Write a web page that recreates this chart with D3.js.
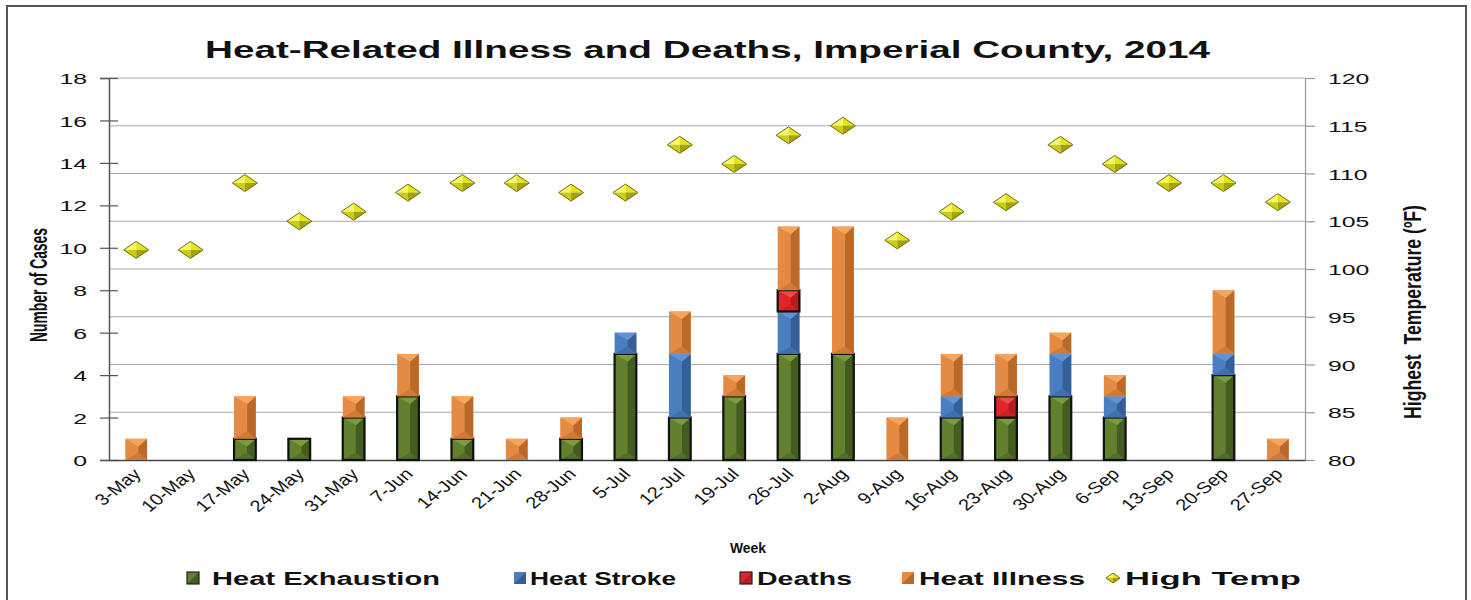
<!DOCTYPE html>
<html><head><meta charset="utf-8">
<script src="https://cdn.jsdelivr.net/npm/d3@7"></script>
<style>
body{margin:0;background:#fff;}
text{font-family:"Liberation Sans",Arial,sans-serif;}
.narrow{font-family:"Liberation Sans Narrow","Arial Narrow","Liberation Sans",sans-serif;}
</style></head>
<body><svg id="chart" width="1471" height="600"></svg>
<script>
const weeks = ["3-May","10-May","17-May","24-May","31-May","7-Jun","14-Jun","21-Jun","28-Jun","5-Jul","12-Jul","19-Jul","26-Jul","2-Aug","9-Aug","16-Aug","23-Aug","30-Aug","6-Sep","13-Sep","20-Sep","27-Sep"];
const heatExhaustion = [0,0,1,1,2,3,1,0,1,5,2,3,5,5,0,2,2,3,2,0,4,0];
const heatStroke     = [0,0,0,0,0,0,0,0,0,1,3,0,2,0,0,1,0,2,1,0,1,0];
const deaths         = [0,0,0,0,0,0,0,0,0,0,0,0,1,0,0,0,1,0,0,0,0,0];
const heatIllness    = [1,0,2,0,1,2,2,1,1,0,2,1,3,6,2,2,2,1,1,0,3,1];
const highTemp       = [102,102,109,105,106,108,109,109,108,108,113,111,114,115,103,106,107,113,111,109,109,107];
const leftTicks  = [0,2,4,6,8,10,12,14,16,18];
const rightTicks = [80,85,90,95,100,105,110,115,120];
const seriesNames = ["Heat Exhaustion","Heat Stroke","Deaths","Heat Illness"];

const svg = d3.select("#chart");
const SX = 1.6;
const L = 109, R = 1305, T = 78, B = 460;

const palette = {
  "Heat Exhaustion": {main:"#61812f", light:"#7a9c3e", dark:"#435c1f", stroke:"#111"},
  "Heat Stroke":     {main:"#4a7ebf", light:"#5f93d3", dark:"#355f97", stroke:null},
  "Deaths":          {main:"#e0262a", light:"#f0494a", dark:"#b81c1e", stroke:"#111"},
  "Heat Illness":    {main:"#e58a42", light:"#f5a45c", dark:"#b96a2b", stroke:null}
};

// border
svg.append("rect").attr("x",7).attr("y",6).attr("width",1459).attr("height",610)
  .attr("fill","none").attr("stroke","#555").attr("stroke-width",2);

const x = d3.scaleBand().domain(weeks).range([L,R]).paddingInner(0.6).paddingOuter(0.3);
const yL = d3.scaleLinear().domain([0,18]).range([B,T]);
const yR = d3.scaleLinear().domain([80,120]).range([B,T]);

// gridlines (right axis ticks)
svg.append("g").selectAll("line").data(rightTicks.slice(1)).join("line")
  .attr("x1",L).attr("x2",R).attr("y1",d=>yR(d)).attr("y2",d=>yR(d))
  .attr("stroke","#a8a8a8").attr("stroke-width",1.2);

// left axis
const gL = svg.append("g").attr("transform",`translate(${L},0)`)
  .call(d3.axisLeft(yL).tickValues(leftTicks).tickSize(9).tickPadding(0));
gL.select(".domain").attr("stroke","#555").attr("stroke-width",1.5);
gL.selectAll(".tick line").attr("x1",-9).attr("x2",9).attr("stroke","#555").attr("stroke-width",1.2);
gL.selectAll(".tick text").attr("x",null).attr("dy","0.36em")
  .attr("transform",`translate(-22,0) scale(${SX},1)`).attr("font-size",15.5).attr("fill","#111")
  .attr("text-anchor","end");

// right axis
const gR = svg.append("g").attr("transform",`translate(${R},0)`)
  .call(d3.axisRight(yR).tickValues(rightTicks).tickSize(10).tickPadding(0));
gR.select(".domain").attr("stroke","#999").attr("stroke-width",1.2);
gR.selectAll(".tick line").attr("stroke","#999").attr("stroke-width",1.2);
gR.selectAll(".tick text").attr("x",null).attr("dy","0.36em")
  .attr("transform",`translate(23,0) scale(${SX},1)`).attr("font-size",15.5).attr("fill","#111")
  .attr("text-anchor","start");

// bottom axis
const gB = svg.append("g").attr("transform",`translate(0,${B})`)
  .call(d3.axisBottom(x).tickSize(0).tickPadding(0));
gB.select(".domain").attr("stroke","#444").attr("stroke-width",1.5);
gB.selectAll(".tick text").attr("y",null).attr("dy",null)
  .attr("text-anchor","end").attr("font-size",16).attr("fill","#111")
  .attr("transform",`translate(6,15) scale(1.25,1) rotate(-45)`);

// stacked bars
const rows = weeks.map((w,i)=>({week:w,"Heat Exhaustion":heatExhaustion[i],"Heat Stroke":heatStroke[i],"Deaths":deaths[i],"Heat Illness":heatIllness[i]}));
const stacked = d3.stack().keys(seriesNames)(rows);
const bw = x.bandwidth();
stacked.forEach(layer=>{
  const c = palette[layer.key];
  const g = svg.append("g");
  layer.forEach(d=>{
    if(d[1]-d[0] <= 0) return;
    const x0 = x(d.data.week), x1 = x0+bw, xr = x0+bw*0.6;
    const y0 = yL(d[1]), y1 = yL(d[0]);
    const t = Math.min(bw*0.35,(y1-y0)/2);
    const sg = g.append("g");
    sg.append("rect").attr("x",x0).attr("y",y0).attr("width",bw).attr("height",y1-y0).attr("fill",c.main);
    sg.append("polygon").attr("points",`${xr},${y0+t} ${x1},${y0} ${x1},${y1} ${xr},${y1-t}`).attr("fill",c.dark);
    sg.append("polygon").attr("points",`${x0},${y0} ${x1},${y0} ${xr},${y0+t}`).attr("fill",c.light);
    sg.append("polygon").attr("points",`${x0},${y1} ${x1},${y1} ${xr},${y1-t}`).attr("fill",c.dark).attr("opacity",0.5);
    if(c.stroke) sg.append("rect").attr("x",x0).attr("y",y0).attr("width",bw).attr("height",y1-y0)
      .attr("fill","none").attr("stroke",c.stroke).attr("stroke-width",2.2);
  });
});

// diamonds
function diamond(g,cx,cy,hw,hh){
  g.append("polygon").attr("points",`${cx-hw},${cy} ${cx},${cy-hh} ${cx},${cy}`).attr("fill","#f6f66a");
  g.append("polygon").attr("points",`${cx},${cy-hh} ${cx+hw},${cy} ${cx},${cy}`).attr("fill","#e4e41c");
  g.append("polygon").attr("points",`${cx-hw},${cy} ${cx},${cy} ${cx},${cy+hh}`).attr("fill","#cccc14");
  g.append("polygon").attr("points",`${cx},${cy} ${cx+hw},${cy} ${cx},${cy+hh}`).attr("fill","#a3a30e");
  g.append("polygon").attr("points",`${cx-hw},${cy} ${cx},${cy-hh} ${cx+hw},${cy} ${cx},${cy+hh}`)
    .attr("fill","none").attr("stroke","#6f6f08").attr("stroke-width",1);
}
const gD = svg.append("g");
highTemp.forEach((v,i)=>{ diamond(gD, x(weeks[i])+bw/2, yR(v), 12.5, 8.5); });

// title
svg.append("text").attr("x",205).attr("y",58).attr("font-size",24.5).attr("font-weight","bold")
  .attr("textLength",1005).attr("lengthAdjust","spacingAndGlyphs").attr("fill","#111")
  .text("Heat-Related Illness and Deaths, Imperial County, 2014");

// axis titles
svg.append("text").attr("class","narrow").attr("font-size",17).attr("font-weight","bold").attr("fill","#111")
  .attr("text-anchor","middle").attr("transform",`translate(47,285) scale(1.45,1) rotate(-90)`)
  .attr("textLength",114).attr("lengthAdjust","spacingAndGlyphs")
  .text("Number of Cases");
svg.append("text").attr("class","narrow").attr("font-size",17).attr("font-weight","bold").attr("fill","#111")
  .attr("text-anchor","middle").attr("transform",`translate(1421,312) scale(1.45,1) rotate(-90)`)
  .attr("textLength",214).attr("lengthAdjust","spacingAndGlyphs")
  .style("white-space","pre").text("Highest  Temperature (ºF)");

svg.append("text").attr("x",730).attr("y",553).attr("font-size",15).attr("font-weight","bold")
  .attr("textLength",36).attr("lengthAdjust","spacingAndGlyphs").attr("fill","#111").text("Week");

// legend
const legendItems = [
  {name:"Heat Exhaustion", mx:187, tx:212, tw:228},
  {name:"Heat Stroke",     mx:514, tx:530, tw:146},
  {name:"Deaths",          mx:740, tx:757, tw:95},
  {name:"Heat Illness",    mx:902, tx:919, tw:166},
  {name:"High Temp",       mx:1106, tx:1125, tw:176}
];
const ly = 578;
legendItems.forEach(it=>{
  const g = svg.append("g");
  if(palette[it.name]){
    const c = palette[it.name];
    const s = 12, x0 = it.mx, y0 = ly-6;
    g.append("rect").attr("x",x0).attr("y",y0).attr("width",s).attr("height",s).attr("fill",c.main);
    g.append("polygon").attr("points",`${x0},${y0+s} ${x0+s},${y0} ${x0+s},${y0+s}`).attr("fill",c.dark);
    g.append("rect").attr("x",x0).attr("y",y0).attr("width",s).attr("height",s).attr("fill","none")
      .attr("stroke", c.stroke ? "#222" : "none").attr("stroke-width",1.2);
  } else {
    diamond(g, it.mx+7, ly, 7, 5);
  }
  g.append("text").attr("x",it.tx).attr("y",ly+6.5).attr("font-size",18).attr("font-weight","bold")
    .attr("textLength",it.tw).attr("lengthAdjust","spacingAndGlyphs").attr("fill","#111").text(it.name);
});
</script></body></html>
